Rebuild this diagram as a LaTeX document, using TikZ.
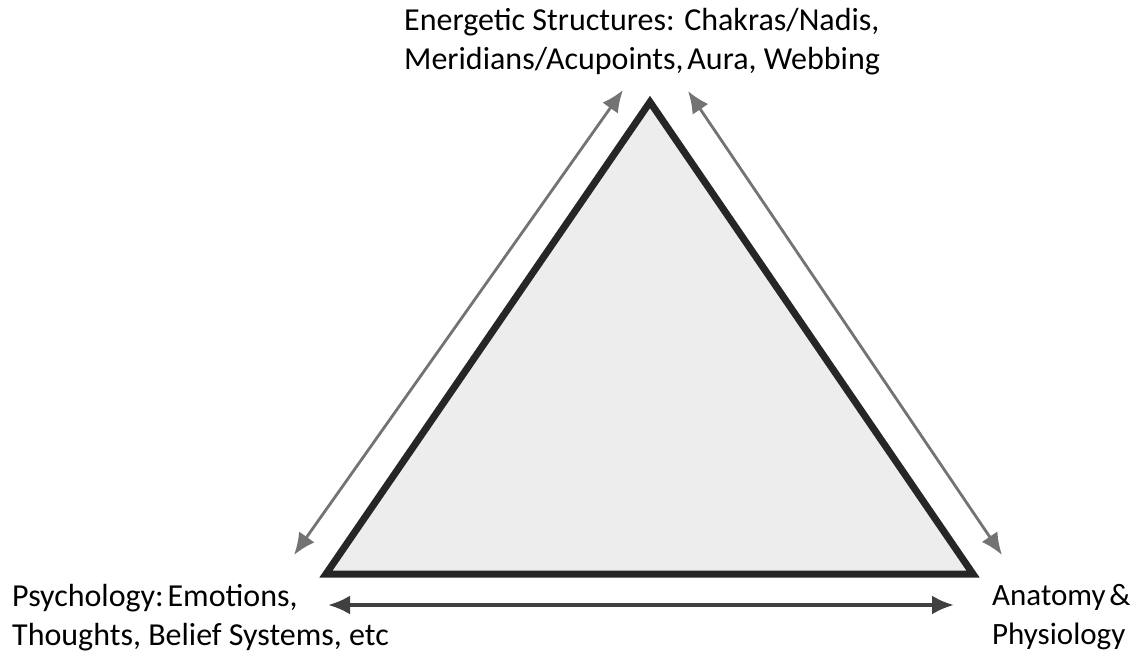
\documentclass[tikz,border=0pt]{standalone}
\usepackage{fontspec}
\setmainfont{Carlito}
\usetikzlibrary{arrows.meta}
\begin{document}
\begin{tikzpicture}[x=1pt,y=-1pt,
  lbl/.style={font=\fontsize{32}{39}\selectfont, align=left, inner sep=0pt, anchor=north west},
  edge/.style={line width=7pt, line join=miter, draw=black!85},
  rel/.style={line width=2.8pt, draw=black!55, {Latex[length=22pt,width=19pt]}-{Latex[length=22pt,width=19pt]}},
]
\useasboundingbox (0,0) rectangle (1136,652);
\coordinate (T) at (650,102);
\coordinate (L) at (326,574);
\coordinate (R) at (973,574);
\fill[black!7] (T) -- (L) -- (R) -- cycle;
\draw[edge] (T) -- (L) -- (R) -- cycle;
\coordinate (a1) at (294,555);
\coordinate (a2) at (623,90);
\coordinate (b1) at (688,91);
\coordinate (b2) at (1002,555);
\coordinate (c1) at (328,605);
\coordinate (c2) at (954,605);
\draw[rel] (a1) -- (a2);
\draw[rel] (b1) -- (b2);
\draw[rel, draw=black!75, line width=3.5pt] (c1) -- (c2);
\node[lbl] (top) at (404,8) {Energetic Structures: Chakras/Nadis,\\Meridians/Acupoints,\hspace{0.12em}Aura, Webbing};
\node[lbl] (psy) at (12,584) {Psychology:\hspace{0.12em}Emotions,\\Thoughts, Belief Systems, etc};
\node[lbl, font=\fontsize{31}{39}\selectfont] (ana) at (992,584) {Anatomy\hspace{0.12em}\&\\Physiology};
\end{tikzpicture}
\end{document}
